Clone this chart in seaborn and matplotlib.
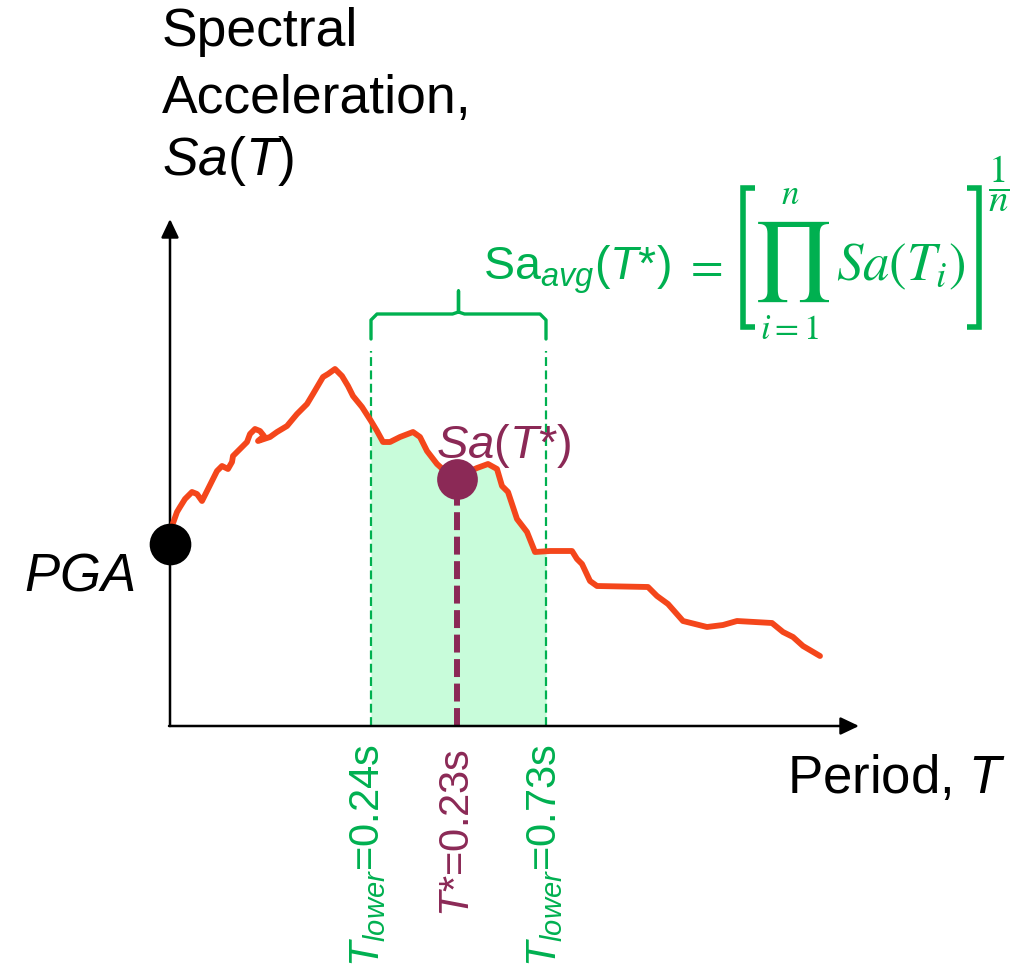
import numpy as np
import pandas as pd
import matplotlib
matplotlib.use("Agg")
import matplotlib.pyplot as plt
import seaborn as sns

# Response spectrum (period in schematic units, spectral acceleration in schematic units)
period = [0.02, 0.07, 0.10, 0.15, 0.22, 0.27, 0.32, 0.37, 0.43, 0.47, 0.52, 0.58,
          0.62, 0.63, 0.70, 0.77, 0.80, 0.85, 0.90, 0.94, 0.88, 1.00, 1.07, 1.17,
          1.27, 1.37, 1.43, 1.53, 1.58, 1.65, 1.72, 1.78, 1.83, 1.92, 2.01, 2.07,
          2.13, 2.20, 2.30, 2.43, 2.50, 2.57, 2.67, 2.77, 2.87, 2.98, 3.07, 3.18,
          3.27, 3.32, 3.38, 3.47, 3.57, 3.65, 3.80, 4.02, 4.07, 4.12, 4.20, 4.27,
          4.78, 4.87, 4.98, 5.13, 5.37, 5.53, 5.67, 6.02, 6.13, 6.23, 6.33, 6.50]
sa = [2.00, 2.14, 2.19, 2.27, 2.34, 2.32, 2.25, 2.35, 2.47, 2.55, 2.60, 2.57,
      2.64, 2.70, 2.77, 2.84, 2.92, 2.97, 2.95, 2.90, 2.85, 2.89, 2.94, 3.00,
      3.12, 3.22, 3.32, 3.49, 3.52, 3.57, 3.50, 3.40, 3.30, 3.19, 3.05, 2.95,
      2.84, 2.84, 2.89, 2.94, 2.89, 2.75, 2.62, 2.53, 2.47, 2.54, 2.58, 2.62,
      2.57, 2.40, 2.34, 2.07, 1.94, 1.74, 1.75, 1.75, 1.67, 1.62, 1.45, 1.40,
      1.39, 1.30, 1.22, 1.05, 0.99, 1.01, 1.05, 1.03, 0.94, 0.89, 0.80, 0.70]

pga = 1.82
t_lower, t_upper = 2.01, 3.76
t_star = 2.87
sa_t_star = 2.47

label_lower = r"$T_{lower}$=0.24s"
label_star = r"$T$*=0.23s"
label_upper = r"$T_{lower}$=0.73s"

GREEN = "#00B050"
FILL = "#C8FCDA"
RED = "#F4461B"
PURPLE = "#8B2956"

sns.set_theme(style="white")
plt.rcParams["font.family"] = ["Liberation Sans", "DejaVu Sans"]
plt.rcParams["mathtext.fontset"] = "custom"
plt.rcParams["mathtext.rm"] = "Liberation Sans"
plt.rcParams["mathtext.it"] = "Liberation Sans:italic"
plt.rcParams["mathtext.bf"] = "Liberation Sans:bold"

fig = plt.figure(figsize=(10.3, 9.7), dpi=100)
ax = fig.add_axes([0, 0, 1, 1])
ax.set_xlim(-1.70, 8.60)
ax.set_ylim(-2.43, 7.27)
ax.axis("off")

df = pd.DataFrame({"T": period, "Sa": sa})

# Averaging window: shaded area under the spectrum
tt = np.array(period)
ss = np.array(sa)
order = np.argsort(tt)
inside = (tt > t_lower) & (tt < t_upper) & (np.arange(len(tt)) > 20)
fx = np.concatenate([[t_lower], tt[inside], [t_upper]])
fy = np.concatenate([[np.interp(t_lower, tt[order], ss[order])], ss[inside],
                     [np.interp(t_upper, tt[order], ss[order])]])
ax.fill_between(fx, 0, fy, color=FILL, lw=0, zorder=1)

# Window bounds
for t in (t_lower, t_upper):
    ax.plot([t, t], [0, 3.75], color=GREEN, lw=1.6, ls=(0, (4, 2)), zorder=2)

# Brace over the window
mid = (t_lower + t_upper) / 2
r = 0.06
bx = [t_lower, t_lower, t_lower + r, mid - r, mid, mid, mid, mid + r, t_upper - r, t_upper, t_upper]
by = [3.87, 4.12 - r, 4.12, 4.12, 4.12 + 0.02, 4.35, 4.12 + 0.02, 4.12, 4.12, 4.12 - r, 3.87]
ax.plot(bx, by, color=GREEN, lw=2.4, solid_joinstyle="round", solid_capstyle="round", zorder=2)

# Spectrum curve
sns.lineplot(data=df, x="T", y="Sa", sort=False, color=RED, lw=4.2, ax=ax,
             zorder=4, estimator=None)

# T* stem and marker
ax.plot([t_star, t_star], [0, sa_t_star], color=PURPLE, lw=4.3, ls=(0, (3, 1.1)), zorder=3)
ax.scatter([t_star], [sa_t_star], s=860, color=PURPLE, zorder=5, linewidths=0)

# PGA marker
ax.scatter([0], [pga], s=900, color="black", zorder=5, linewidths=0)

# Axes with arrowheads
arrow = dict(arrowstyle="-|>,head_length=0.8,head_width=0.38", color="black",
             lw=1.8, mutation_scale=14, shrinkA=0, shrinkB=0)
ax.annotate("", xy=(0, 5.07), xytext=(0, 0), arrowprops=arrow, zorder=3)
ax.annotate("", xy=(6.89, 0), xytext=(-0.01, 0), arrowprops=arrow, zorder=3)

fs = 38.5
ax.text(-0.08, 6.81, "Spectral", fontsize=fs, ha="left", va="baseline", color="black")
ax.text(-0.08, 6.14, "Acceleration,", fontsize=fs, ha="left", va="baseline", color="black")
ax.text(-0.08, 5.52, r"$Sa$($T$)", fontsize=fs, ha="left", va="baseline", color="black")

ax.text(6.17, -0.66, r"Period, $T$", fontsize=38, ha="left", va="baseline", color="black")
ax.text(-1.46, 1.36, r"$PGA$", fontsize=38, ha="left", va="baseline", color="black")
ax.text(2.66, 2.69, r"$Sa$($T$*)", fontsize=34, ha="left", va="baseline", color=PURPLE)

# Window labels
ax.text(1.98, -0.17, label_lower, rotation=90, fontsize=30, ha="center", va="top", color=GREEN)
ax.text(2.88, -0.22, label_star, rotation=90, fontsize=30, ha="center", va="top", color=PURPLE)
ax.text(3.75, -0.17, label_upper, rotation=90, fontsize=30, ha="center", va="top", color=GREEN)

# Average spectral acceleration definition
base = 4.47
ax.text(3.13, base, r"$\mathrm{Sa}_{avg}$($T$*)", fontsize=33.5, ha="left", va="baseline", color=GREEN)
ax.text(5.14, base, r"$=$", fontsize=34, ha="left", va="baseline", color=GREEN, math_fontfamily="stix")
ax.text(6.215, 4.655, r"$\prod$", fontsize=57, ha="center", va="center", color=GREEN, math_fontfamily="stix")
ax.text(6.20, 5.32, r"$n$", fontsize=25, ha="center", va="center", color=GREEN, math_fontfamily="stix")
ax.text(6.20, 3.97, r"$i=1$", fontsize=25, ha="center", va="center", color=GREEN, math_fontfamily="stix")
ax.text(6.66, base, r"$Sa(T_i)$", fontsize=38, ha="left", va="baseline", color=GREEN, math_fontfamily="stix")
ax.text(8.285, 5.43, r"$\dfrac{1}{n}$", fontsize=28, ha="center", va="center", color=GREEN,
        math_fontfamily="stix")

# Square brackets around the product
top, bot = 5.38, 3.99
ax.plot([5.85, 5.73, 5.73, 5.85], [top, top, bot, bot], color=GREEN, lw=4.0,
        solid_joinstyle="miter", solid_capstyle="butt")
ax.plot([7.97, 8.085, 8.085, 7.97], [top, top, bot, bot], color=GREEN, lw=4.0,
        solid_joinstyle="miter", solid_capstyle="butt")

fig.savefig("out.png", dpi=100)
